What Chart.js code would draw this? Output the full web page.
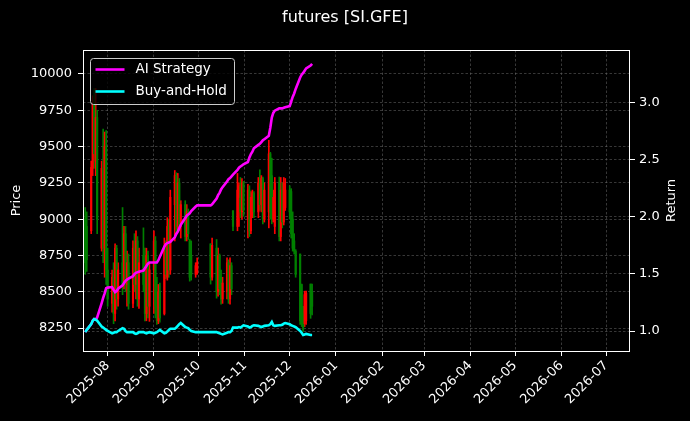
<!DOCTYPE html>
<html>
<head>
<meta charset="utf-8">
<script src="https://cdn.jsdelivr.net/npm/chart.js@4.4.1/dist/chart.umd.min.js"></script>
<style>
  html, body { margin: 0; padding: 0; background: #000; }
</style>
</head>
<body>
<canvas id="chart" width="690" height="421"></canvas>
<script>
// --- data ---
const tradeDates = [
  '2025-07-17','2025-07-18','2025-07-21','2025-07-22','2025-07-23','2025-07-24','2025-07-25',
  '2025-07-28','2025-07-29','2025-07-30','2025-07-31','2025-08-01',
  '2025-08-04','2025-08-05','2025-08-06','2025-08-07','2025-08-08',
  '2025-08-11','2025-08-12','2025-08-13','2025-08-14','2025-08-15',
  '2025-08-18','2025-08-19','2025-08-20','2025-08-21','2025-08-22',
  '2025-08-25','2025-08-26','2025-08-27','2025-08-28','2025-08-29',
  '2025-09-01','2025-09-02','2025-09-03','2025-09-04','2025-09-05',
  '2025-09-08','2025-09-09','2025-09-10','2025-09-11','2025-09-12',
  '2025-09-15','2025-09-16','2025-09-17','2025-09-18','2025-09-19',
  '2025-09-22','2025-09-23','2025-09-24','2025-09-25','2025-09-26',
  '2025-09-29','2025-09-30',
  '2025-10-09','2025-10-10',
  '2025-10-13','2025-10-14','2025-10-15','2025-10-16','2025-10-17',
  '2025-10-20','2025-10-21','2025-10-22','2025-10-23','2025-10-24',
  '2025-10-27','2025-10-28','2025-10-29','2025-10-30','2025-10-31',
  '2025-11-03','2025-11-04','2025-11-05','2025-11-06','2025-11-07',
  '2025-11-10','2025-11-11','2025-11-12','2025-11-13','2025-11-14',
  '2025-11-17','2025-11-18','2025-11-19','2025-11-20','2025-11-21',
  '2025-11-24','2025-11-25','2025-11-26','2025-11-27','2025-11-28',
  '2025-12-01','2025-12-02','2025-12-03','2025-12-04','2025-12-05',
  '2025-12-08','2025-12-09','2025-12-10','2025-12-11','2025-12-12',
  '2025-12-15','2025-12-16'
];

const openP = [
  9000,8950,8920,9350,9800,9400,9700, 8800,9350,8800,9500,8650,
  8420,8600,8350,8800,8450, 8700,8550,8900,8550,8700,
  8420,8800,8550,8850,8450, 8750,8550,8350,8750,8400,
  8650,8850,8400,8300,8500, 8350,8800,8600,8950,8650,
  9100,9300,8950,9250,8950, 9100,8880,9050,8850,8750,
  8620,8630, 8830,8600,
  8800,8500,8750,8600,8450, 8500,8700,8450,8680,9058,
  8950,9150,9230,9050,9250, 9000,9200,8920,9050,9180,
  9050,9250,9100,9280,9000, 9050,9450,9300,9000,8950,
  9250,8880,9200,8980,9080, 9200,9190,9000,8850,8780,
  8760,8550,8350,8280,8300, 8553,8500
];
const highP = [
  9080,9050,9400,9850,9900,9900,9750, 9400,9620,9600,9610,8800,
  8650,8700,8830,8820,8700, 9080,8950,8950,8780,8760,
  8850,8900,8920,8880,8800, 8940,8800,8800,8780,8700,
  8920,8880,8600,8550,8560, 8870,8850,9010,9000,9200,
  9335,9320,9315,9280,9127, 9127,9100,9070,8860,8850,
  8700,8733, 8830,8870,
  8860,8800,8760,8650,8600, 8733,8720,8733,8700,9058,
  9315,9250,9287,9280,9260, 9240,9230,9190,9200,9190,
  9287,9340,9300,9290,9250, 9543,9460,9420,9200,9287,
  9290,9287,9250,9287,9280, 9230,9210,9050,8900,8790,
  8760,8553,8400,8504,8504, 8553,8553
];
const lowP = [
  8620,8640,8900,9300,9350,9300,8900, 8780,8700,8600,8550,8400,
  8360,8280,8300,8380,8400, 8480,8520,8500,8400,8380,
  8390,8500,8450,8400,8385, 8500,8300,8300,8320,8296,
  8350,8320,8275,8280,8290, 8340,8590,8580,8600,8620,
  8850,8900,8920,8920,8870, 8850,8850,8860,8573,8580,
  8600,8620, 8553,8580,
  8456,8470,8480,8414,8420, 8450,8420,8414,8480,8920,
  8920,8950,9010,9000,9020, 8870,8880,8900,9010,9010,
  9010,9060,9050,8968,8980, 8940,9000,8968,8980,8900,
  8850,8850,8940,8960,9060, 9000,8870,8780,8760,8600,
  8275,8260,8227,8260,8275, 8317,8340
];
const closeP = [
  8700,8720,9356,9800,9450,9700,9000, 9350,8800,9500,8650,8450,
  8600,8350,8800,8450,8650, 8550,8900,8550,8700,8420,
  8800,8550,8850,8450,8700, 8550,8350,8750,8400,8650,
  8850,8400,8300,8500,8320, 8800,8620,8950,8650,9150,
  9300,8950,9250,8950,9100, 8880,9050,8900,8600,8620,
  8680,8700, 8600,8820,
  8500,8750,8520,8450,8560, 8700,8450,8680,8520,8950,
  9200,9230,9050,9250,9060, 9200,8920,9150,9180,9050,
  9250,9100,9280,9000,9200, 9450,9050,9000,9150,9250,
  8880,9200,8980,9250,9200, 9050,8900,8800,8780,8620,
  8300,8280,8240,8480,8490, 8350,8400
];

const aiStrategy = [
  0.99,1.01,1.06,1.09,1.105,1.10,1.12, 1.245,1.29,1.33,1.375,1.38,
  1.385,1.36,1.34,1.35,1.37, 1.40,1.42,1.44,1.45,1.46,
  1.48,1.50,1.51,1.515,1.52, 1.53,1.55,1.57,1.59,1.60,
  1.60,1.60,1.60,1.62,1.65, 1.74,1.76,1.77,1.775,1.78,
  1.82,1.85,1.87,1.90,1.93, 1.99,2.01,2.02,2.03,2.05,
  2.09,2.10, 2.10,2.11,
  2.16,2.19,2.21,2.24,2.26, 2.31,2.33,2.34,2.355,2.37,
  2.41,2.43,2.44,2.45,2.46, 2.48,2.52,2.55,2.57,2.60,
  2.63,2.64,2.655,2.67,2.68, 2.71,2.78,2.87,2.91,2.93,
  2.95,2.95,2.95,2.955,2.96, 2.97,3.01,3.05,3.08,3.12,
  3.22,3.245,3.26,3.28,3.30, 3.325,3.34
];
const buyHold = [
  0.99,1.01,1.06,1.09,1.105,1.10,1.09, 1.04,1.03,1.02,1.01,1.00,
  0.98,0.985,0.99,0.99,1.00, 1.025,1.02,1.00,0.99,0.99,
  0.99,0.98,0.975,0.98,0.99, 0.99,0.985,0.98,0.985,0.99,
  0.98,0.985,0.99,1.00,1.01, 0.98,0.985,0.995,1.01,1.02,
  1.02,1.03,1.045,1.06,1.07, 1.035,1.03,1.025,1.01,1.00,
  0.99,0.99, 0.99,0.99,
  0.99,0.985,0.98,0.975,0.97, 0.985,0.99,0.99,1.00,1.03,
  1.03,1.035,1.03,1.04,1.05, 1.04,1.03,1.035,1.045,1.05,
  1.045,1.04,1.035,1.04,1.045, 1.05,1.06,1.08,1.05,1.045,
  1.05,1.05,1.055,1.065,1.07, 1.06,1.05,1.045,1.04,1.035,
  1.00,0.985,0.965,0.97,0.975, 0.965,0.965
];

const monthTicks = [
  '2025-08-01','2025-09-01','2025-10-01','2025-11-01','2025-12-01','2026-01-01',
  '2026-02-01','2026-03-01','2026-04-01','2026-05-01','2026-06-01','2026-07-01'
];
const priceTicks = [8250, 8500, 8750, 9000, 9250, 9500, 9750, 10000];
const returnTicks = [1.0, 1.5, 2.0, 2.5, 3.0];

// --- helpers ---
function dayNum(s) {
  const [y, m, d] = s.split('-').map(Number);
  return Date.UTC(y, m - 1, d) / 864e5;
}
const xs = tradeDates.map(dayNum);
const candleColor = closeP.map((c, i) => c >= openP[i] ? '#ff0000' : '#008000');

const FONT = 'DejaVu Sans';
const gridColor = 'rgba(110,110,110,0.5)';
const LINE_W = 2.6;

// black background
const bgPlugin = {
  id: 'bg',
  beforeDraw(chart) {
    const ctx = chart.ctx;
    ctx.save();
    ctx.fillStyle = '#000';
    ctx.fillRect(0, 0, chart.width, chart.height);
    ctx.restore();
  }
};

// white spines round the plot + right-side label
const framePlugin = {
  id: 'frame',
  afterDatasetsDraw(chart) {
    const { ctx, chartArea: a } = chart;
    ctx.save();
    ctx.strokeStyle = '#fff';
    ctx.lineWidth = 1;
    ctx.strokeRect(Math.round(a.left) + 0.5, Math.round(a.top) + 0.5,
      Math.round(a.right - a.left) - 1, Math.round(a.bottom - a.top));
    ctx.restore();
  },
  afterDraw(chart) {
    const { ctx, chartArea: a } = chart;
    ctx.save();
    ctx.translate(672, (a.top + a.bottom) / 2);
    ctx.rotate(-Math.PI / 2);
    ctx.fillStyle = '#fff';
    ctx.font = '13px "' + FONT + '"';
    ctx.textAlign = 'center';
    ctx.textBaseline = 'middle';
    ctx.fillText('Return', 0, 0);
    ctx.restore();
  }
};

// legend box inside the plot, upper left
const legendPlugin = {
  id: 'innerLegend',
  afterDraw(chart) {
    const { ctx, chartArea: a } = chart;
    const items = chart.data.datasets.filter(d => d.type === 'line');
    const x = a.left + 7.5, y = a.top + 8.5, w = 144, h = 46, r = 3;
    ctx.save();
    ctx.beginPath();
    ctx.roundRect(x, y, w, h, r);
    ctx.fillStyle = 'rgba(0,0,0,0.8)';
    ctx.fill();
    ctx.strokeStyle = '#cccccc';
    ctx.lineWidth = 1;
    ctx.stroke();
    ctx.font = '13.5px "' + FONT + '"';
    ctx.textBaseline = 'middle';
    items.forEach((d, i) => {
      const ly = y + 11 + i * 22;
      ctx.strokeStyle = d.borderColor;
      ctx.lineWidth = LINE_W;
      ctx.beginPath();
      ctx.moveTo(x + 5, ly);
      ctx.lineTo(x + 34, ly);
      ctx.stroke();
      ctx.fillStyle = '#fff';
      ctx.fillText(d.label, x + 45, ly);
    });
    ctx.restore();
  }
};

const tickFont = { family: FONT, size: 13 };

new Chart(document.getElementById('chart'), {
  type: 'bar',
  data: {
    datasets: [
      {
        type: 'line',
        label: 'AI Strategy',
        data: xs.map((x, i) => ({ x, y: aiStrategy[i] })),
        yAxisID: 'y1',
        borderColor: '#ff00ff',
        borderWidth: LINE_W,
        pointRadius: 0,
        tension: 0,
        order: 1
      },
      {
        type: 'line',
        label: 'Buy-and-Hold',
        data: xs.map((x, i) => ({ x, y: buyHold[i] })),
        yAxisID: 'y1',
        borderColor: '#00ffff',
        borderWidth: LINE_W,
        pointRadius: 0,
        tension: 0,
        order: 0
      },
      {
        label: 'body',
        data: xs.map((x, i) => ({ x, y: [openP[i], closeP[i]] })),
        yAxisID: 'y',
        backgroundColor: candleColor,
        barThickness: 1.5,
        grouped: false,
        borderWidth: 0,
        order: 2
      },
      {
        label: 'wick',
        data: xs.map((x, i) => ({ x, y: [lowP[i], highP[i]] })),
        yAxisID: 'y',
        backgroundColor: candleColor,
        barThickness: 1,
        grouped: false,
        borderWidth: 0,
        order: 3
      }
    ]
  },
  options: {
    responsive: false,
    animation: false,
    devicePixelRatio: 1,
    layout: { padding: 0 },
    plugins: {
      legend: { display: false },
      tooltip: { enabled: false },
      title: {
        display: true,
        text: 'futures [SI.GFE]',
        color: '#fff',
        font: { family: FONT, size: 16, weight: 'normal', lineHeight: 1.2 },
        padding: { top: 8, bottom: 22.8 }
      }
    },
    scales: {
      x: {
        type: 'linear',
        offset: false,
        min: dayNum('2025-07-15') + 0.5,
        max: dayNum('2026-07-17'),
        afterBuildTicks: s => { s.ticks = monthTicks.map(m => ({ value: dayNum(m) })); },
        afterFit: s => { s.height = 70; },
        grid: { color: gridColor, lineWidth: 1, offset: false, tickColor: '#fff', tickLength: 5 },
        border: { display: false, dash: [2.5, 2] },
        ticks: {
          color: '#fff',
          font: tickFont,
          autoSkip: false,
          minRotation: 45,
          maxRotation: 45,
          padding: 2,
          callback: (v, i) => monthTicks[i].slice(0, 7)
        }
      },
      y: {
        type: 'linear',
        position: 'left',
        min: 8092,
        max: 10165,
        afterBuildTicks: s => { s.ticks = priceTicks.map(v => ({ value: v })); },
        afterFit: s => { s.width = 83; },
        grid: { color: gridColor, lineWidth: 1, tickColor: '#fff', tickLength: 5 },
        border: { display: false, dash: [2.5, 2] },
        ticks: { color: '#fff', font: tickFont, padding: 6, callback: v => String(v) },
        title: {
          display: true,
          text: 'Price',
          color: '#fff',
          font: { family: FONT, size: 13, lineHeight: 1.2 },
          padding: { top: 9, bottom: 0 }
        }
      },
      y1: {
        type: 'linear',
        position: 'right',
        min: 0.825,
        max: 3.461,
        afterBuildTicks: s => { s.ticks = returnTicks.map(v => ({ value: v })); },
        afterFit: s => { s.width = 60; },
        grid: { color: gridColor, lineWidth: 1, tickColor: '#fff', tickLength: 5 },
        border: { display: false, dash: [2.5, 2] },
        ticks: { color: '#fff', font: tickFont, padding: 4, callback: v => v.toFixed(1) }
      }
    }
  },
  plugins: [bgPlugin, framePlugin, legendPlugin]
});
</script>
</body>
</html>
